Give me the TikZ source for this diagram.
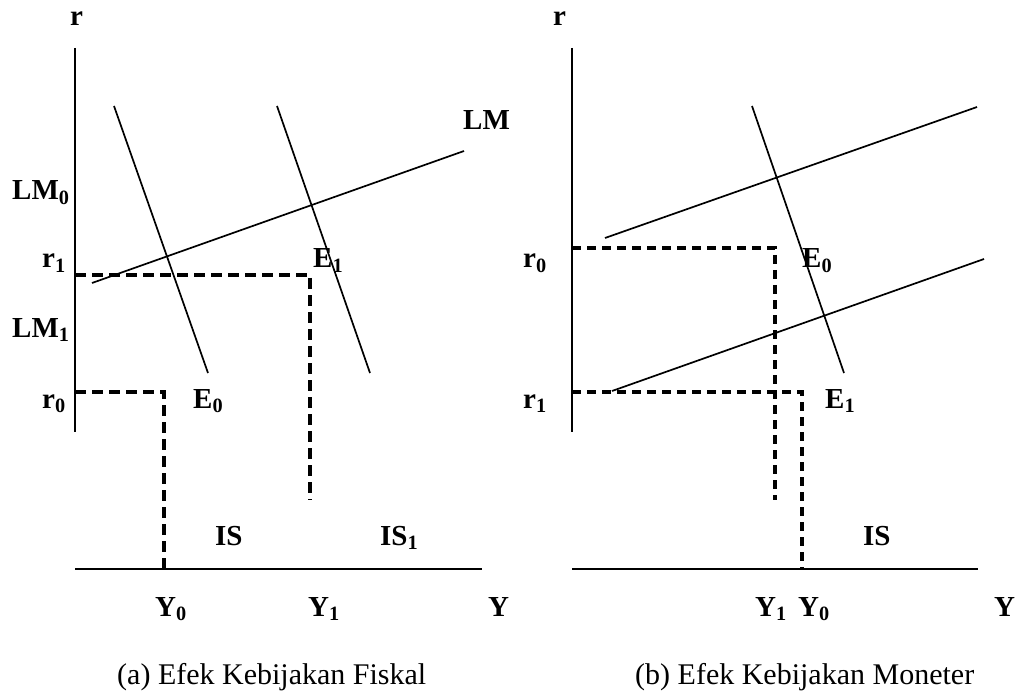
\documentclass[tikz,border=0pt]{standalone}
\usepackage{fontspec}
\setmainfont{Liberation Serif}
\usetikzlibrary{positioning}
\newcommand{\lblfont}{\fontsize{29}{33}\selectfont\bfseries}
\newcommand{\capfont}{\fontsize{30}{34}\selectfont}
\tikzset{
  axisln/.style={line width=2pt},
  curveln/.style={line width=1.7pt},
  guideln/.style={line width=3.3pt, dash pattern=on 11pt off 6pt},
  guidelnb/.style={line width=3.3pt, dash pattern=on 9pt off 6pt},
  lbl/.style={anchor=base west, inner sep=0pt, font=\lblfont},
  capt/.style={anchor=base west, inner sep=0pt, font=\capfont}
}

\begin{document}
\begin{tikzpicture}[x=1pt,y=-1pt]
  \useasboundingbox (0,0) rectangle (1016,692);

  % ---- (a) fiscal policy ----
  % axes
  \draw[axisln] (75,48) -- (75,432);
  \draw[axisln] (75,569) -- (482,569);
  \node[lbl] (ra) at (70,26) {r};
  \node[lbl] (Ya) at (488,616) {Y};

  % IS, IS1 and LM
  \draw[curveln] (114,106) -- (208,373);
  \draw[curveln] (277,106) -- (370,373);
  \draw[curveln] (92,283) -- (464,151);

  % guides
  \draw[guideln] (75,275) -- (310,275) -- (310,500);
  \draw[guideln] (75,392) -- (164,392) -- (164,569);

  % labels
  \node[lbl] (LMa)  at (463,130) {LM};
  \node[lbl] (LM0a) at (12,200) {LM\textsubscript{0}};
  \node[lbl] (LM1a) at (12,337) {LM\textsubscript{1}};
  \node[lbl] (r1a)  at (42,268) {r\textsubscript{1}};
  \node[lbl] (r0a)  at (42,408) {r\textsubscript{0}};
  \node[lbl] (E1a)  at (313,268) {E\textsubscript{1}};
  \node[lbl] (E0a)  at (193,408) {E\textsubscript{0}};
  \node[lbl] (ISa)  at (215,545) {IS};
  \node[lbl] (IS1a) at (380,545) {IS\textsubscript{1}};
  \node[lbl] (Y0a)  at (155,616) {Y\textsubscript{0}};
  \node[lbl] (Y1a)  at (308,616) {Y\textsubscript{1}};
  \node[capt] (capa) at (117,684) {(a) Efek Kebijakan Fiskal};

  % ---- (b) monetary policy ----
  % axes
  \draw[axisln] (572,48) -- (572,432);
  \draw[axisln] (572,569) -- (978,569);
  \node[lbl] (rb) at (553,26) {r};
  \node[lbl] (Yb) at (994,616) {Y};

  % IS and the two LM lines
  \draw[curveln] (752,106) -- (844,373);
  \draw[curveln] (605,238) -- (977,107);
  \draw[curveln] (612,391) -- (984,259);

  % guides
  \draw[guidelnb] (572,248) -- (775,248) -- (775,500);
  \draw[guidelnb] (572,392) -- (802,392) -- (802,569);

  % labels
  \node[lbl] (r0b)  at (523,268) {r\textsubscript{0}};
  \node[lbl] (r1b)  at (523,408) {r\textsubscript{1}};
  \node[lbl] (E0b)  at (802,268) {E\textsubscript{0}};
  \node[lbl] (E1b)  at (825,408) {E\textsubscript{1}};
  \node[lbl] (ISb)  at (863,545) {IS};
  \node[lbl] (Y1b)  at (755,616) {Y\textsubscript{1}};
  \node[lbl] (Y0b)  at (798,616) {Y\textsubscript{0}};
  \node[capt] (capb) at (635,684) {(b) Efek Kebijakan Moneter};
\end{tikzpicture}
\end{document}
